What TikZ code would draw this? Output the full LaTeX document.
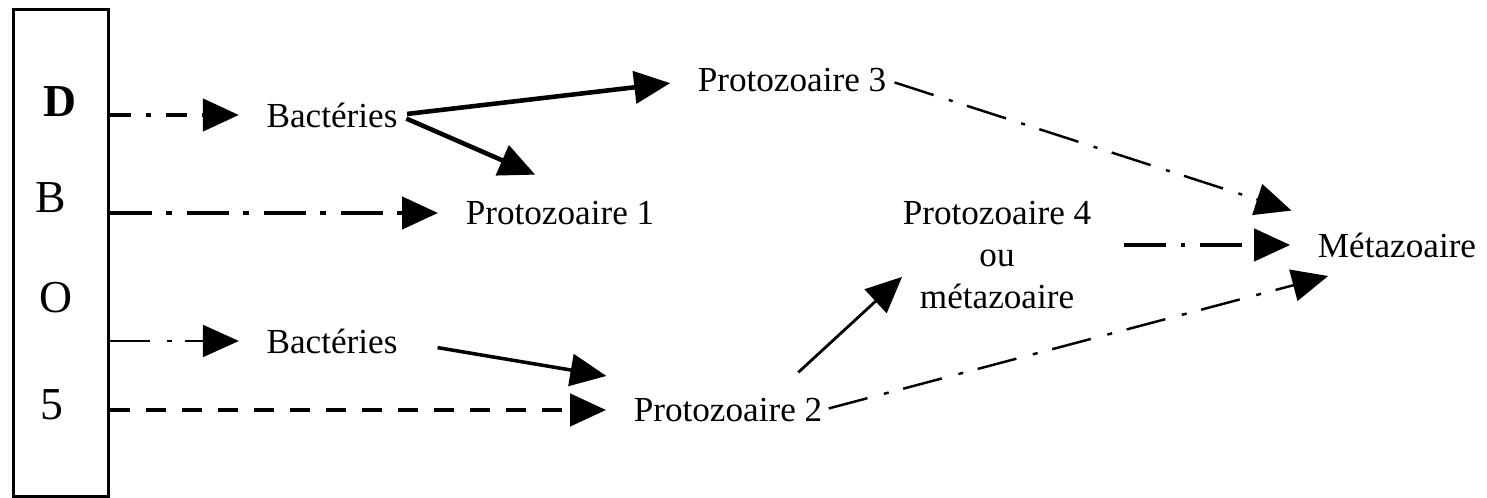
\documentclass[tikz,border=0pt]{standalone}
\usepackage{fontspec}
\setmainfont{Liberation Serif}
\usetikzlibrary{arrows.meta}
\tikzset{
  texte/.style={inner sep=0pt, font=\fontsize{10}{12}\selectfont, align=center},
  lettre/.style={inner sep=0pt, font=\fontsize{13}{15}\selectfont},
  fleche/.style={-{Triangle[length=0.36cm, width=0.32cm]}, shorten >=0.27cm},
  epais/.style={fleche, line width=1.3pt},
  fin/.style={fleche, line width=0.7pt},
  tiretpoint/.style={dash pattern=on #1 off 0.15cm on 0.05cm off 0.15cm},
}

\begin{document}
\begin{tikzpicture}[x=0.01cm, y=-0.01cm]
  \useasboundingbox (0,0) rectangle (1487,498);

  % Boîte DBO5
  \node[draw, line width=0.85pt, minimum width=0.95cm, minimum height=4.86cm, inner sep=0pt] (dbo) at (61,253) {};
  \node[lettre, font=\fontsize{13}{15}\selectfont\bfseries] (D) at (60,102) {D};
  \node[lettre] (B) at (51,198) {B};
  \node[lettre] (O) at (56,298) {O};
  \node[lettre] (cinq) at (52,405) {5};

  % Organismes
  \node[texte] (bac1) at (332,115) {Bactéries};
  \node[texte] (p1)   at (560,213) {Protozoaire 1};
  \node[texte] (bac2) at (332,341) {Bactéries};
  \node[texte] (p2)   at (728,410) {Protozoaire 2};
  \node[texte] (p3)   at (792,80)  {Protozoaire 3};
  \node[texte] (p4)   at (997,255) {Protozoaire 4\\ou\\métazoaire};
  \node[texte] (met)  at (1397,245) {Métazoaire};

  % Entrées depuis la boîte
  \draw[epais, tiretpoint=0.21cm] (dbo.east |- bac1.west) -- (bac1.west);
  \draw[epais, dash pattern=on 0.42cm off 0.14cm on 0.06cm off 0.15cm] (dbo.east |- p1.west) -- (p1.west);
  \draw[fin, line width=0.6pt, dash pattern=on 0.4cm off 0.17cm on 0.05cm off 0.13cm] (dbo.east |- bac2.west) -- (bac2.west);
  \draw[epais, dash pattern=on 0.2cm off 0.16cm] (dbo.east |- p2.west) -- (p2.west);

  % Bactéries vers protozoaires
  \draw[epais, line width=1.3pt, shorten <=0.09cm] (bac1.east) -- (p3.west);
  \draw[epais, line width=1.3pt, shorten <=0.09cm] (bac1.east) -- ([yshift=0.15cm]p1.north);
  \draw[fin, line width=1pt, shorten <=0.4cm] (bac2.east) -- ([yshift=0.17cm]p2.north west);
  \draw[fin, line width=0.8pt, shorten <=0.37cm, shorten >=0pt] ([xshift=0.43cm]p2.north) -- (p4.193);

  % Vers le métazoaire
  \draw[fin, dash pattern=on 0.41cm off 0.16cm on 0.04cm off 0.15cm, shorten <=0.08cm] (p3.east) -- ([yshift=0.13cm]met.north west);
  \draw[epais, line width=1.2pt, dash pattern=on 0.42cm off 0.15cm on 0.04cm off 0.15cm, shorten <=0.32cm] (p4.east |- met.west) -- (met.west);
  \draw[fin, dash pattern=on 0.4cm off 0.17cm on 0.05cm off 0.15cm, shorten <=0.06cm] (p2.east) -- ([xshift=0.37cm, yshift=-0.11cm]met.south west);
\end{tikzpicture}
\end{document}
